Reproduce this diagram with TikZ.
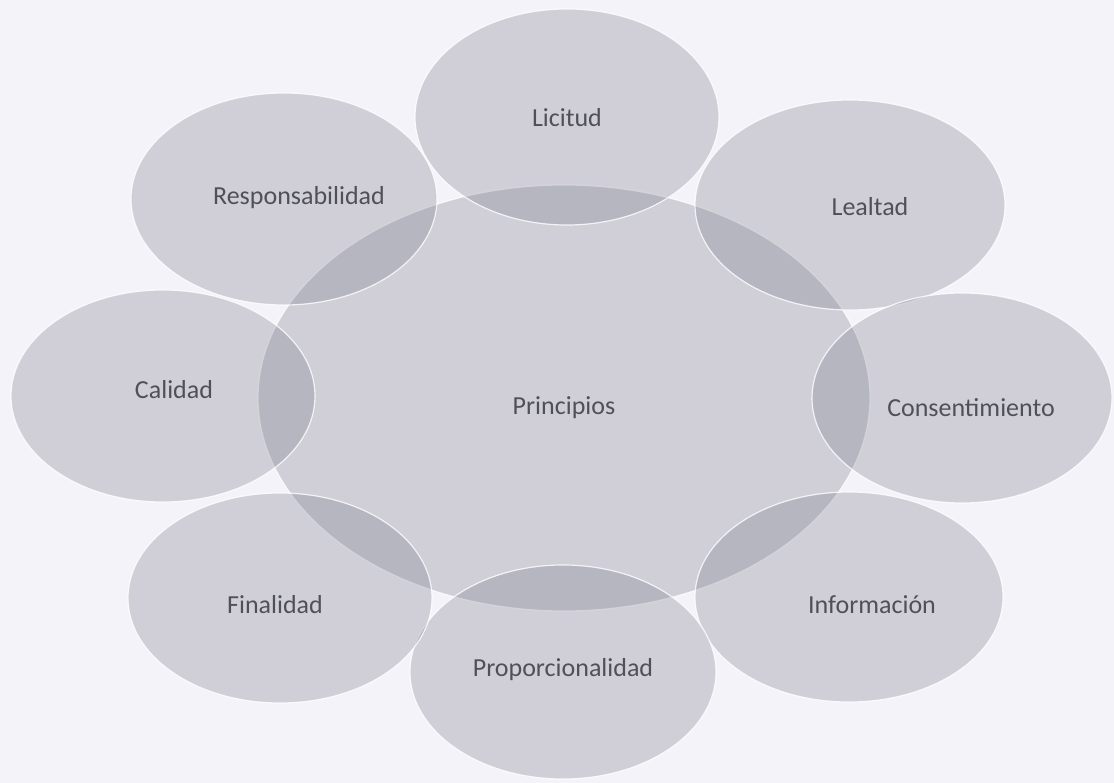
\documentclass[tikz,border=0pt]{standalone}
\usepackage{fontspec}
\setmainfont{Carlito}
\definecolor{bgc}{RGB}{244,243,250}
\definecolor{ellc}{RGB}{125,127,140}
\definecolor{txtc}{RGB}{80,80,88}
\begin{document}
\begin{tikzpicture}[x=1pt,y=-1pt,
  lbl/.style={font=\fontsize{26}{30}\selectfont, text=txtc}]
\fill[bgc] (0,0) rectangle (1114,783);
\useasboundingbox (0,0) rectangle (1114,783);
\tikzset{blob/.style={fill=ellc, fill opacity=0.3, draw=white, draw opacity=0.8, line width=1.2pt}}
\draw[blob] (564,398) ellipse [x radius=306, y radius=213];
\draw[blob] (567,117) ellipse [x radius=152, y radius=108];
\draw[blob] (850,205) ellipse [x radius=155, y radius=105];
\draw[blob] (962,398) ellipse [x radius=150, y radius=105];
\draw[blob] (849,597) ellipse [x radius=154, y radius=105];
\draw[blob] (563,672) ellipse [x radius=153, y radius=107];
\draw[blob] (280,598) ellipse [x radius=152, y radius=105];
\draw[blob] (163,396) ellipse [x radius=152, y radius=106];
\draw[blob] (284,199) ellipse [x radius=153, y radius=106];
\node[lbl] (pri) at (564,408) {Principios};
\node[lbl] (lic) at (567,118) {Licitud};
\node[lbl] (lea) at (870,207) {Lealtad};
\node[lbl] (con) at (971,408) {Consentimiento};
\node[lbl] (inf) at (872,605) {Información};
\node[lbl] (pro) at (563,670) {Proporcionalidad};
\node[lbl] (fin) at (275,605) {Finalidad};
\node[lbl] (cal) at (174,390) {Calidad};
\node[lbl] (res) at (299,198) {Responsabilidad};
\end{tikzpicture}
\end{document}
